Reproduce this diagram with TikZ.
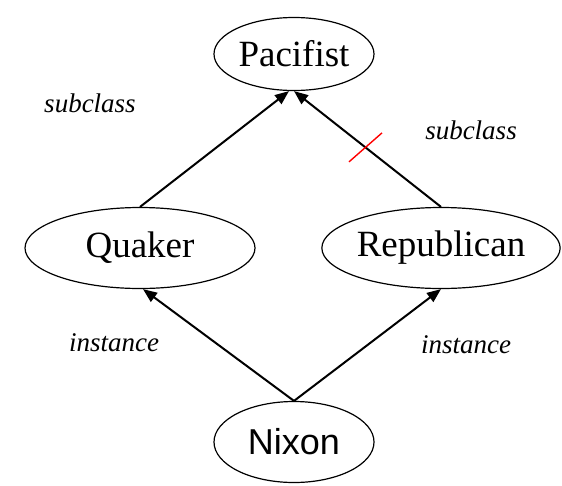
\documentclass[tikz,border=0pt]{standalone}
\usepackage{fontspec}
\setmainfont{Liberation Serif}
\newfontfamily\nixonfont{Liberation Sans}
\usetikzlibrary{shapes.geometric,arrows.meta,calc}
\tikzset{
  classnode/.style={draw, ellipse, line width=1.2pt, inner sep=0pt,
    font=\fontsize{37}{42}\selectfont},
  edgelabel/.style={font=\fontsize{27}{31}\selectfont\itshape},
  isa/.style={line width=2pt, -{Triangle[length=14pt,width=11pt]}},
  cancel/.style={red, line width=1.4pt}
}
\begin{document}
\begin{tikzpicture}[x=1pt,y=-1pt]
  \useasboundingbox (0,0) rectangle (562,485);
  % class hierarchy
  \node[classnode, minimum width=160pt, minimum height=73pt] (P) at (294,54) {Pacifist};
  \node[classnode, minimum width=230pt, minimum height=81pt] (Q) at (140,248) {Quaker};
  \node[classnode, minimum width=226pt, minimum height=81pt] (R) at (441,248) {Republican};
  \node[classnode, minimum width=160pt, minimum height=81pt,
        font=\nixonfont\fontsize{36}{40}\selectfont] (N) at (294,442) {Nixon};
  % links
  \draw[isa] (Q.north) -- ([xshift=-5pt]P.south);
  \draw[isa] (R.north) -- (P.south);
  \draw[isa] (N.north) -- ([xshift=3pt]Q.south);
  \draw[isa] (N.north) -- (R.south);
  % the defeated subclass link
  \coordinate (cut) at ($(R.north)!0.51!(P.south)$);
  \draw[cancel] ($(cut)+(-17,14)$) -- ($(cut)+(16,-15)$);
  % link labels
  \node[edgelabel] (ls1) at (90,103) {subclass};
  \node[edgelabel] (ls2) at (471,130) {subclass};
  \node[edgelabel] (li1) at (114,343) {instance};
  \node[edgelabel] (li2) at (466,345) {instance};
\end{tikzpicture}
\end{document}
